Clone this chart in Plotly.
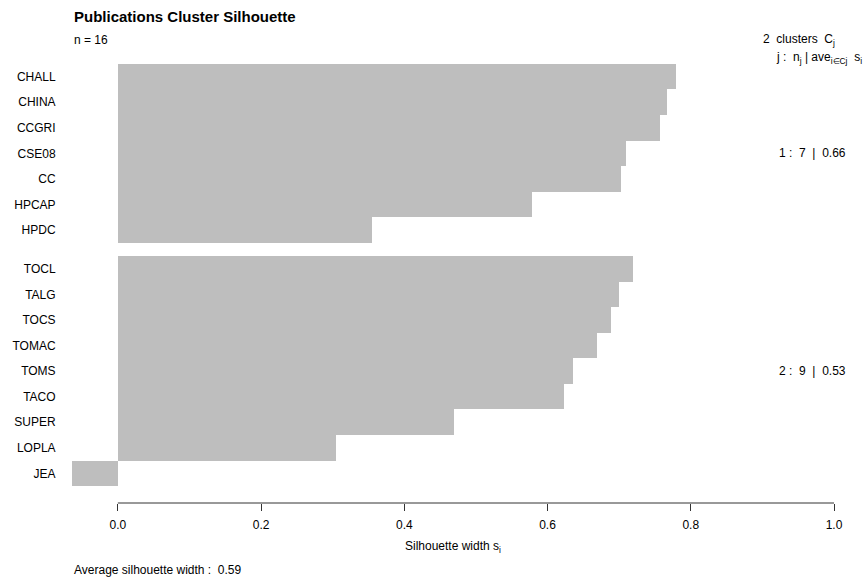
import plotly.graph_objects as go

# ---- data ----
cluster1_names = ["CHALL", "CHINA", "CCGRI", "CSE08", "CC", "HPCAP", "HPDC"]
cluster1_sil = [0.780, 0.767, 0.757, 0.710, 0.702, 0.578, 0.355]
cluster2_names = ["TOCL", "TALG", "TOCS", "TOMAC", "TOMS", "TACO", "SUPER", "LOPLA", "JEA"]
cluster2_sil = [0.720, 0.700, 0.689, 0.669, 0.635, 0.623, 0.469, 0.304, -0.064]
x_ticks = [0.0, 0.2, 0.4, 0.6, 0.8, 1.0]
x_tick_labels = ["0.0", "0.2", "0.4", "0.6", "0.8", "1.0"]

clusters = [(cluster1_names, cluster1_sil), (cluster2_names, cluster2_sil)]

# ---- layout constants (pixels) ----
W, H = 865, 580
PL, PR, PT, PB = 72, 834, 47, 503  # plot area edges
GAP = 0.52  # gap between clusters in bar units
FONT = "Liberation Sans, Arial, Helvetica, sans-serif"
GRAY = "#BEBEBE"

names, vals, pos = [], [], []
k = 0
for ci, (nm, sv) in enumerate(clusters):
    for j, (n, v) in enumerate(zip(nm, sv)):
        names.append(n)
        vals.append(v)
        pos.append(k + 0.5 + ci * GAP)
        k += 1
total = k + (len(clusters) - 1) * GAP
pad = total * 0.04

xmin = min(0, min(vals))

fig = go.Figure()
fig.add_trace(go.Bar(
    x=vals, y=pos, orientation="h", width=1.0,
    marker=dict(color=GRAY, line=dict(width=0)),
    hoverinfo="skip", showlegend=False,
))

def px_x(p):
    return (p - PL) / (PR - PL)

def px_y(p):
    return (PB - p) / (PB - PT)

ann = []
def add_text(text, xp, yp, anchor="left", size=12):
    ann.append(dict(text=text, x=px_x(xp), y=px_y(yp), xref="paper", yref="paper",
                    xanchor=anchor, yanchor="middle", showarrow=False,
                    font=dict(family=FONT, size=size, color="black")))

add_text("<b>Publications Cluster Silhouette</b>", 72, 16, size=15)
add_text(f"n = {len(names)}", 72, 40)
add_text(f"{len(clusters)}  clusters  C<sub>j</sub>", 761, 40)
add_text("j :  n<sub>j</sub> | ave<sub>i\u2208Cj</sub>  s<sub>i</sub>", 774, 58)

# cluster summaries centred on each cluster block
k = 0
for ci, (nm, sv) in enumerate(clusters):
    top = k + ci * GAP
    bot = top + len(sv)
    mid = (top + bot) / 2
    ypix = PT + (mid + pad) / (total + 2 * pad) * (PB - PT)
    add_text(f"{ci + 1} :  {len(sv)}  |  {sum(sv) / len(sv):.2f}", 777, ypix)
    k += len(sv)

add_text("Silhouette width s<sub>i</sub>", (PL + PR) / 2, 547, anchor="center")
add_text(f"Average silhouette width :  {sum(vals) / len(vals):.2f}", 72, 570)

fig.update_layout(
    width=W, height=H,
    margin=dict(l=PL, r=W - PR, t=PT, b=H - PB, pad=0),
    paper_bgcolor="white", plot_bgcolor="white",
    font=dict(family=FONT, size=12, color="black"),
    annotations=ann,
    shapes=[dict(type="line", xref="x", yref="paper", x0=0, x1=1, y0=0, y1=0,
                 line=dict(color="#333333", width=1))],
    xaxis=dict(range=[xmin, 1.0], tickvals=x_ticks, ticktext=x_tick_labels,
               ticks="outside", ticklen=7, tickcolor="#333333", tickwidth=1,
               ticklabelstandoff=4,
               showgrid=False, zeroline=False, showline=False,
               tickfont=dict(family=FONT, size=12, color="black"), fixedrange=True),
    yaxis=dict(range=[total + pad, -pad], tickvals=pos, ticktext=names,
               ticks="outside", ticklen=13, tickcolor="rgba(0,0,0,0)",
               showgrid=False, zeroline=False, showline=False,
               tickfont=dict(family=FONT, size=12, color="black"), fixedrange=True),
    bargap=0,
)

fig.write_html("out.html", config={"displayModeBar": False},
               post_script="document.body.style.margin='0';document.body.style.overflow='hidden';")
